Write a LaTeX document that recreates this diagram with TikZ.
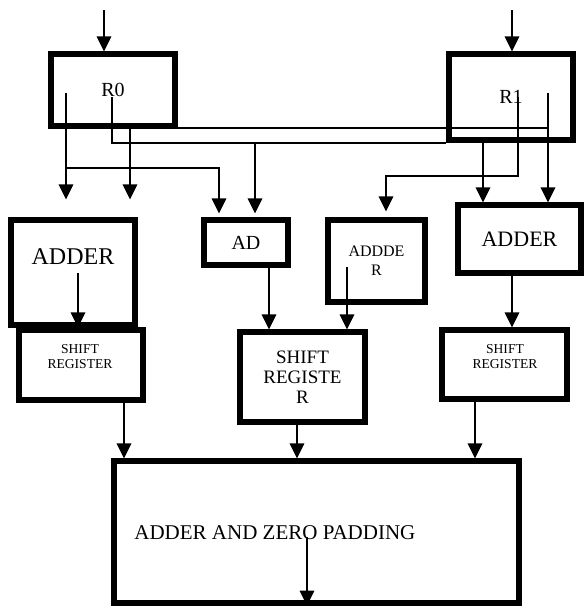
\documentclass[tikz,border=0pt]{standalone}
\usepackage{fontspec}
\setmainfont{Liberation Serif}
\usetikzlibrary{arrows.meta}
\tikzset{
  blk/.style={draw, line width=2.6pt, inner sep=0pt, align=center},
  arr/.style={-{Triangle[length=7.5pt, width=7.2pt]}, line width=1pt},
  bus/.style={line width=0.7pt},
  lbl/.style={inner sep=0pt, align=center},
  fA/.style={font=\fontsize{10}{12}\selectfont},
  fB/.style={font=\fontsize{12}{14}\selectfont},
  fC/.style={font=\fontsize{9.5}{10}\selectfont},
  fD/.style={font=\fontsize{8}{9.5}\selectfont},
  fE/.style={font=\fontsize{6.8}{7.5}\selectfont},
}
\begin{document}
\begin{tikzpicture}[x=0.5pt, y=-0.5pt]
\useasboundingbox (0,0) rectangle (584,607);
% registers
\node[blk, fA, minimum width=62pt, minimum height=36pt] (r0) at (113,90) {R0};
\node[blk, fA, minimum width=62pt, minimum height=43pt] (r1) at (511,97) {R1};
% adders
\node[blk, minimum width=62pt, minimum height=52.5pt] (addL) at (73,272.5) {};
\node[lbl, fB] (addLtxt) at (73,257) {ADDER};
\node[blk, font=\fontsize{10}{12}\selectfont, minimum width=42pt, minimum height=22.5pt] (ad) at (246,242.5) {AD};
\node[blk, fD, minimum width=48.5pt, minimum height=41pt] (addM) at (376.5,261) {ADDDE\\R};
\node[blk, font=\fontsize{11}{13}\selectfont, minimum width=61.5pt, minimum height=34pt] (addR) at (519.5,239) {ADDER};
% shift registers
\node[blk, minimum width=62pt, minimum height=35pt] (shL) at (81,365) {};
\node[lbl, fE] (shLtxt) at (80,357) {SHIFT\\REGISTER};
\node[blk, fC, minimum width=62.5pt, minimum height=45pt] (shM) at (302.5,377) {SHIFT\\REGISTE\\R};
\node[blk, minimum width=62.5pt, minimum height=34.5pt] (shR) at (504.5,364.5) {};
\node[lbl, fE] (shRtxt) at (505,357) {SHIFT\\REGISTER};
% final stage
\node[blk, minimum width=202.5pt, minimum height=71pt] (big) at (316.5,532) {};
\node[lbl, font=\fontsize{10.5}{12}\selectfont, anchor=west] (bigtxt) at (134,533) {ADDER AND ZERO PADDING};

% inputs
\coordinate (in0) at (104,10);
\coordinate (in1) at (512,10);
\draw[arr] (in0) -- (in0 |- r0.north);
\draw[arr] (in1) -- (in1 |- r1.north);

% R0 outputs
\coordinate (t0a) at (66,93);
\coordinate (t0b) at (112,97);
\draw[arr, shorten >=9pt] (t0a) -- (t0a |- addL.north);
\draw[arr, shorten >=9pt] (130,0 |- r0.south) -- (130,0 |- addL.north);
\draw[arr, shorten >=2pt] (t0a |- 0,168) -| (219,0 |- ad.north);
\draw[bus] (t0b) |- (r1.west |- 0,143);
\draw[arr, shorten >=2pt] (255,143) -- (255,0 |- ad.north);
\coordinate (t1b) at (548,93);
\draw[bus] (r0.east |- 0,128) -- (t1b |- 0,128);
\draw[arr] (t1b) -- (t1b |- addR.north);

% R1 outputs
\coordinate (t1a) at (518,97);
\draw[arr, shorten >=3pt] (t1a) |- (386,176) -- (386,0 |- addM.north);
\draw[arr] (483,0 |- r1.south) -- (483,0 |- addR.north);

% adders to shift registers
\coordinate (tL) at (78,273);
\draw[arr] (tL) -- (tL |- shL.north);
\draw[arr] (269,0 |- ad.south) -- (269,0 |- shM.north);
\coordinate (tM) at (347,267);
\draw[arr] (tM) -- (tM |- shM.north);
\draw[arr] (512,0 |- addR.south) -- (512,0 |- shR.north);

% shift registers to final adder
\draw[arr] (124,0 |- shL.south) -- (124,0 |- big.north);
\draw[arr] (297,0 |- shM.south) -- (297,0 |- big.north);
\draw[arr] (475,0 |- shR.south) -- (475,0 |- big.north);
\coordinate (tB) at (307,537);
\draw[arr] (tB) -- (tB |- big.south);
\end{tikzpicture}
\end{document}
